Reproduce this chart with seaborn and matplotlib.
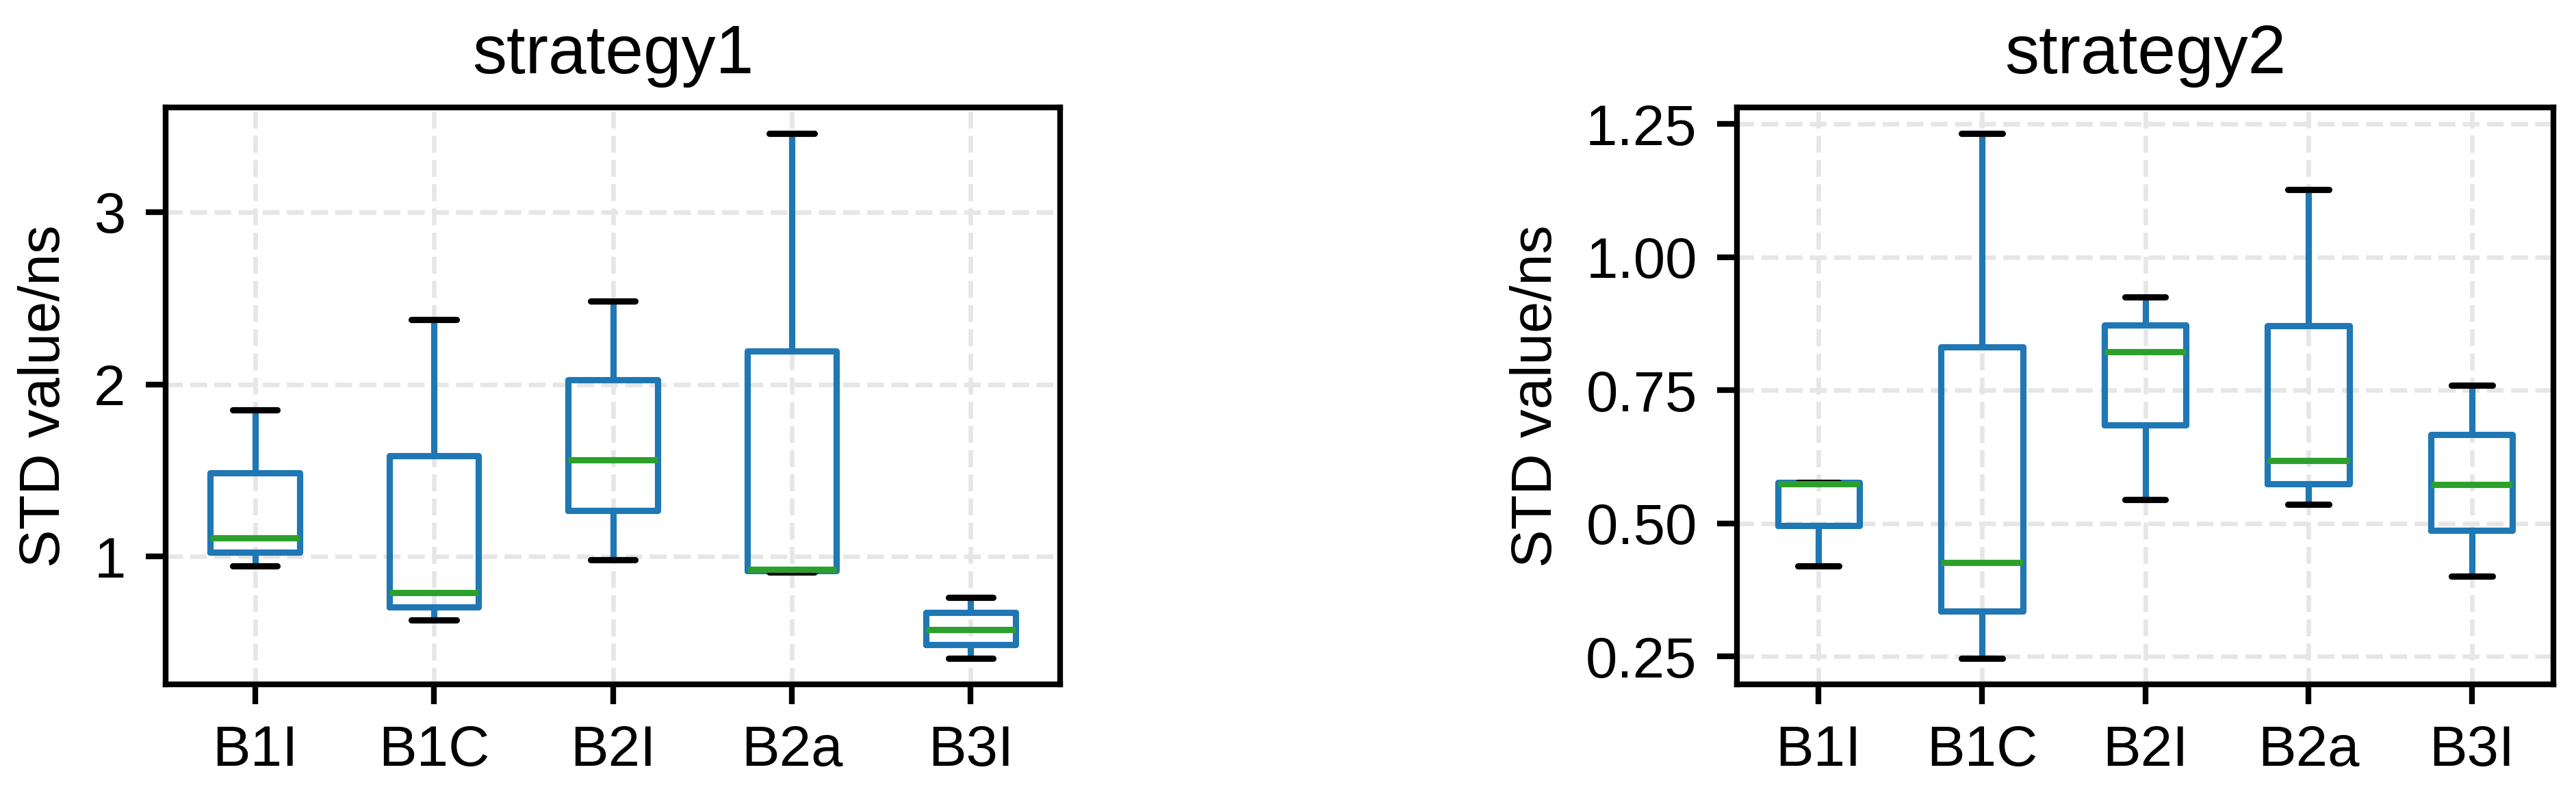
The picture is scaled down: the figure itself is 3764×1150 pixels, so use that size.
#import libraries
import seaborn as sns
import matplotlib
matplotlib.use("Agg")
import matplotlib.pyplot as plt
import pandas as pd

#values (5 per band: low whisker, Q1, median, Q3, high whisker)
bands = ["B1I", "B1C", "B2I", "B2a", "B3I"]

s1_b1i = [0.947, 1.026, 1.108, 1.484, 1.850]
s1_b1c = [0.630, 0.707, 0.792, 1.584, 2.375]
s1_b2i = [0.982, 1.267, 1.560, 2.026, 2.484]
s1_b2a = [0.909, 0.918, 0.927, 2.194, 3.455]
s1_b3i = [0.410, 0.489, 0.577, 0.674, 0.762]

s2_b1i = [0.420, 0.496, 0.574, 0.577, 0.577]
s2_b1c = [0.247, 0.335, 0.427, 0.832, 1.232]
s2_b2i = [0.545, 0.685, 0.823, 0.873, 0.925]
s2_b2a = [0.536, 0.574, 0.618, 0.871, 1.127]
s2_b3i = [0.401, 0.487, 0.573, 0.667, 0.760]

titles = ["strategy1", "strategy2"]
ylabel = "STD value/ns"


def to_long(groups):
    rows = []
    for band, vals in zip(bands, groups):
        for v in vals:
            rows.append({"band": band, "std": v})
    return pd.DataFrame(rows)


df1 = to_long([s1_b1i, s1_b1c, s1_b2i, s1_b2a, s1_b3i])
df2 = to_long([s2_b1i, s2_b1c, s2_b2i, s2_b2a, s2_b3i])

#global styles
sns.set_style("white")
plt.rcParams["font.family"] = ["Liberation Sans", "DejaVu Sans"]
plt.rcParams["text.color"] = "black"
plt.rcParams["axes.labelcolor"] = "black"
plt.rcParams["xtick.color"] = "black"
plt.rcParams["ytick.color"] = "black"
plt.rcParams["axes.linewidth"] = 1.0
plt.rcParams["xtick.major.width"] = 1.0
plt.rcParams["ytick.major.width"] = 1.0

fig = plt.figure(figsize=(3764 / 600, 1150 / 600), dpi=600)
ax1 = fig.add_axes([242 / 3764, 150 / 1150, 1307 / 3764, 843 / 1150])
ax2 = fig.add_axes([2538 / 3764, 150 / 1150, 1193 / 3764, 843 / 1150])

lw = 1.1
for ax, df, title in zip([ax1, ax2], [df1, df2], titles):
    sns.boxplot(data=df,
                x="band",
                y="std",
                order=bands,
                ax=ax,
                fill=False,
                color="#1f77b4",
                width=0.5,
                linewidth=lw,
                whis=1.5,
                showfliers=False,
                medianprops={"color": "#2ca02c", "linewidth": lw},
                capprops={"color": "black", "linewidth": lw},
                whiskerprops={"color": "#1f77b4", "linewidth": lw},
                boxprops={"color": "#1f77b4", "linewidth": lw})
    ax.set_axisbelow(True)
    ax.grid(True, linestyle="--", color="#e6e6e6", linewidth=0.8)
    for side in ["top", "right", "bottom", "left"]:
        ax.spines[side].set_visible(True)
        ax.spines[side].set_color("black")
    ax.tick_params(axis="both", which="major", length=3.5, width=1.0,
                   labelsize=10, colors="black", bottom=True, left=True)
    ax.set_title(title, fontsize=12, color="black")
    ax.set_xlabel("")
    ax.set_ylabel(ylabel, fontsize=10, color="black")
    ax.margins(y=0.05)

fig.savefig("out.png", dpi=600)
